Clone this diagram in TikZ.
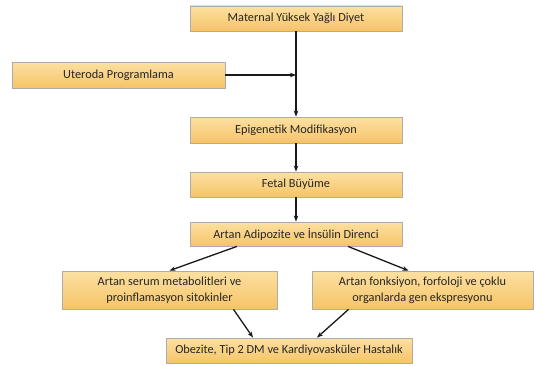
\documentclass[tikz,border=0pt]{standalone}
\usepackage{fontspec}
\setmainfont{Carlito}
\usepackage{xcolor}
\usetikzlibrary{arrows.meta,positioning,calc}

\definecolor{boxtop}{HTML}{FCE0A2}
\definecolor{boxbot}{HTML}{F6C467}

\begin{document}
\begin{tikzpicture}[
    x=1pt, y=1pt,
    stage/.style={rectangle, draw=gray!65, line width=0.8pt, top color=boxtop, bottom color=boxbot,
        minimum height=#1, inner sep=2pt, align=center, text=black!85, font=\fontsize{12.3}{16}\selectfont},
    stage/.default=25pt,
    arr/.style={-{Stealth[length=6pt,width=4.5pt]}, line width=1.3pt, color=black!90}
]
    \useasboundingbox (0,0) rectangle (534,365);

    % Main column
    \node[stage, minimum width=212pt] (diet)  at (296,346.5) {Maternal Yüksek Yağlı Diyet};
    \node[stage=26pt, minimum width=213pt] (utero) at (118.5,290) {Uteroda Programlama};
    \node[stage=26pt, minimum width=212pt] (epi)   at (296,235) {Epigenetik Modifikasyon};
    \node[stage, minimum width=212pt] (fetal) at (296,180.5) {Fetal Büyüme};
    \node[stage=24pt, minimum width=212pt] (adipo) at (296,131) {Artan Adipozite ve İnsülin Direnci};

    % Two branches
    \node[stage=38pt, minimum width=215pt] (serum) at (169.5,75) {Artan serum metabolitleri ve\\proinflamasyon sitokinler};
    \node[stage=38pt, minimum width=221pt] (organ) at (422.5,75) {Artan fonksiyon, forfoloji ve çoklu\\organlarda gen ekspresyonu};

    % Outcome
    \node[stage, minimum width=246pt] (disease) at (289,14.5) {Obezite, Tip 2 DM ve Kardiyovasküler Hastalık};

    % Arrows down the column
    \coordinate (join) at (diet.south |- utero.east);
    \draw[arr] (diet.south) -- (epi.north);
    \draw[arr] (utero.east) -- (join);
    \draw[arr] (epi) -- (fetal);
    \draw[arr] (fetal) -- (adipo);

    % Split and merge
    \draw[arr] ([xshift=-59pt]adipo.south) -- ([xshift=0pt]serum.north);
    \draw[arr] ([xshift=52pt]adipo.south) -- ([xshift=-14pt]organ.north);
    \draw[arr] ([xshift=64pt]serum.south) -- ([xshift=-36pt]disease.north);
    \draw[arr] ([xshift=-74pt]organ.south) -- ([xshift=28pt]disease.north);

\end{tikzpicture}
\end{document}
